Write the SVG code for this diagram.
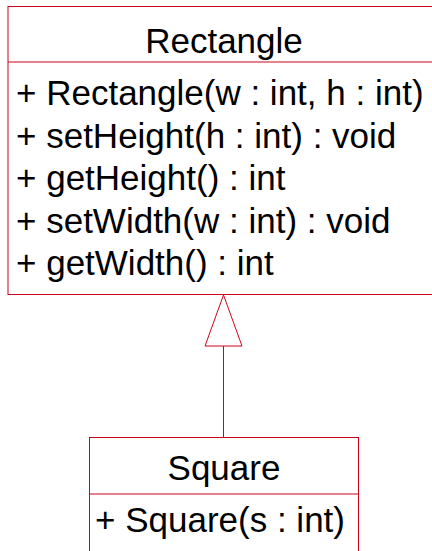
<svg xmlns="http://www.w3.org/2000/svg" width="432" height="551" viewBox="0 0 432 551">
<style>
.box{fill:#ffffff;stroke:#d0021b;stroke-width:1}
.div{stroke:#d0021b;stroke-width:1}
.conn{stroke:#d0021b;stroke-width:1;fill:none}
.tri{stroke:#d0021b;stroke-width:1;fill:#ffffff}
text{font-family:"Liberation Sans",Arial,sans-serif;font-size:35px;fill:#000000}
.title{text-anchor:middle}
</style>
<rect width="432" height="551" fill="#ffffff"/>
<g id="connectors">
<line class="conn" x1="223.5" y1="346" x2="223.5" y2="437"/>
<polygon class="tri" points="223.5,295 205,346 242,346"/>
</g>
<g id="Rectangle">
<rect class="box" x="8" y="6.5" width="440" height="288"/>
<line class="div" x1="8" y1="62" x2="440" y2="62"/>
<text class="title" x="224" y="53">Rectangle</text>
<text x="16" y="105">+ Rectangle(w : int, h : int)</text>
<text x="16" y="147.5">+ setHeight(h : int) : void</text>
<text x="16" y="190">+ getHeight() : int</text>
<text x="16" y="232.5">+ setWidth(w : int) : void</text>
<text x="16" y="275">+ getWidth() : int</text>
</g>
<g id="Square">
<rect class="box" x="89.5" y="437.5" width="269" height="130"/>
<line class="div" x1="89.5" y1="494" x2="358.5" y2="494"/>
<text class="title" x="224" y="480">Square</text>
<text x="95" y="532">+ Square(s : int)</text>
</g>
</svg>
